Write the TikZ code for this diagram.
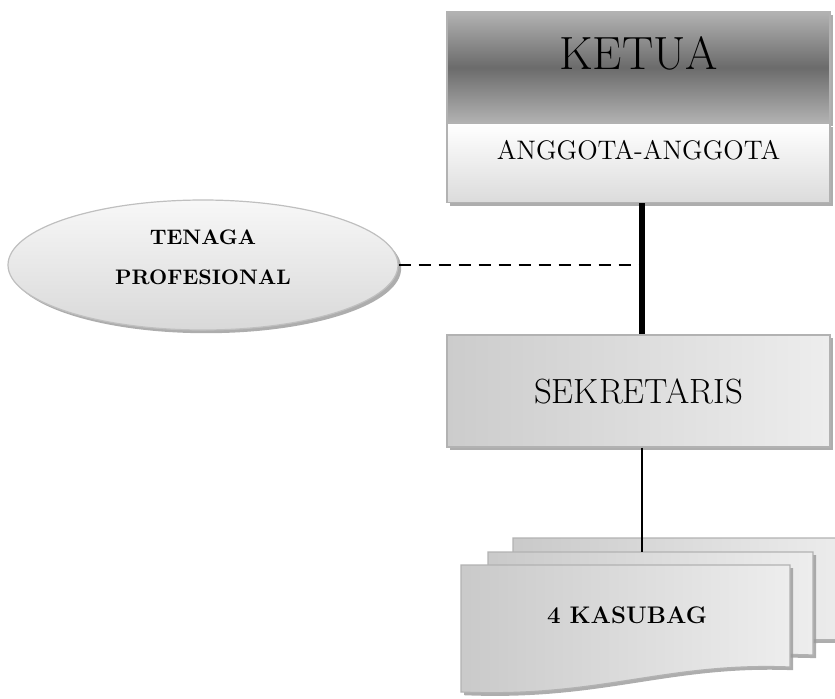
\documentclass[tikz,border=0pt]{standalone}
\usepackage{tikz}
\usetikzlibrary{shapes.geometric,shadows}

\begin{document}
\begin{tikzpicture}[x=0.5pt,y=-0.5pt,
  every node/.style={align=center},
  shadowed/.style={drop shadow={shadow xshift=1.6pt,shadow yshift=-1.6pt,fill=black!40,opacity=0.8}},
  box/.style={draw=black!30, line width=0.6pt, shadowed, minimum width=191.5pt, inner sep=0pt},
  headbox/.style={box, top color=black!30, bottom color=black!30, middle color=black!58},
  memberbox/.style={box, top color=white, bottom color=black!14},
  plainbox/.style={box, left color=black!20, right color=black!7},
  bubble/.style={ellipse, draw=black!25, line width=0.6pt, shadowed, top color=black!3, bottom color=black!15,
    minimum width=195pt, minimum height=65pt, inner sep=0pt},
  sheet/.style={draw=black!30, line width=0.6pt, shadowed, left color=black!21, right color=black!7},
  strong/.style={line width=3pt},
  thin/.style={line width=1pt},
  link/.style={line width=0.8pt, dash pattern=on 6pt off 4pt}]

\useasboundingbox (0,0) rectangle (835,698);

% the head of the board
\node[headbox, minimum height=55.5pt, font=\fontsize{23.3}{26}\selectfont,
  text height=15.9pt, text depth=14pt] (ketua) at (638.5,67.5) {KETUA};
\node[memberbox, minimum height=39.5pt, font=\fontsize{13.4}{16}\selectfont,
  text height=9.1pt, text depth=12.5pt] (anggota) at (638.5,163) {ANGGOTA-ANGGOTA};

% the secretary
\node[plainbox, minimum height=56pt, font=\fontsize{17.5}{20}\selectfont] (sekretaris) at (638.5,391) {SEKRETARIS};

% the professional staff
\node[bubble, font=\bfseries\fontsize{10.5}{20}\selectfont, text depth=8pt] (tenaga) at (203,265) {TENAGA\\PROFESIONAL};

% the stacked sheets of the sub-sections
\path[sheet] (513,538) -- (850,538) -- (850,640) .. controls (720,636) and (660,668) .. (513,664) -- cycle;
\path[sheet] (488,552) -- (813,552) -- (813,655) .. controls (690,650) and (630,684) .. (488,679) -- cycle;
\path[sheet] (461,565) -- (790,565) -- (790,667) .. controls (665,662) and (600,698) .. (461,692) -- cycle;
\node[font=\bfseries\fontsize{12}{14}\selectfont] (kasubag) at (627,615) {4 KASUBAG};
\coordinate (kasubagtop) at (642,552);

% connectors
\coordinate (joint) at (tenaga.east -| anggota.south);
\draw[strong] (anggota.south) ++(3.5,0) -- ([xshift=1.75pt]sekretaris.north);
\draw[link] (tenaga.east) -- ([xshift=0.5pt]joint);
\draw[thin] ([xshift=1.75pt]sekretaris.south) -- (kasubagtop);

\end{tikzpicture}
\end{document}
